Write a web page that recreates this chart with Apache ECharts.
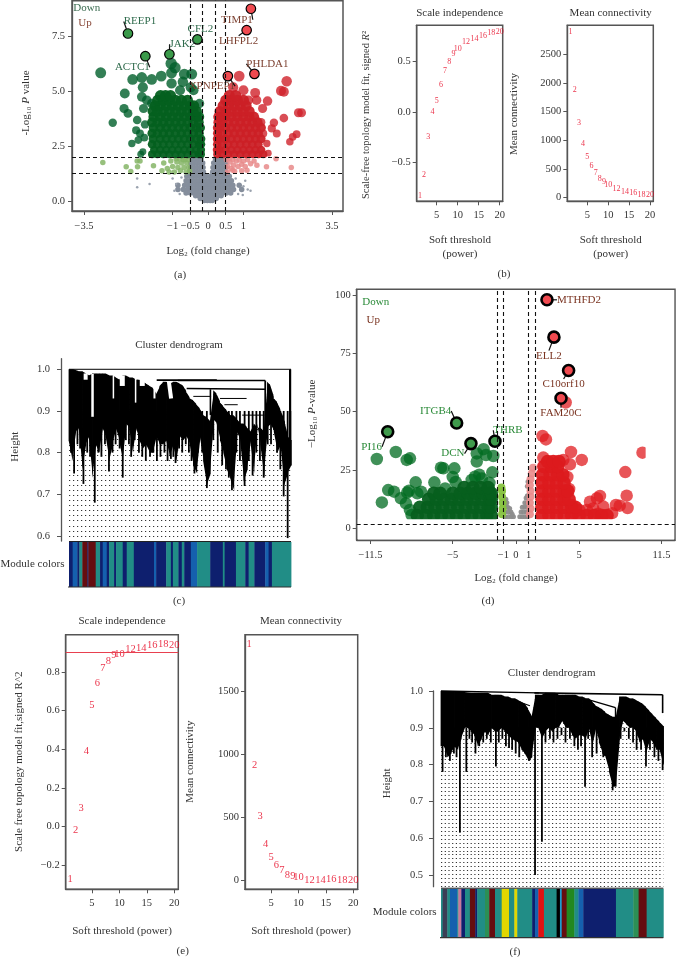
<!DOCTYPE html>
<html><head><meta charset="utf-8">
<style>html,body{margin:0;padding:0;background:#fff}#c{width:676px;height:957px}</style>
<script src="https://cdn.jsdelivr.net/npm/echarts@6/dist/echarts.min.js"></script>
</head><body><div id="c"></div>
<script>
// ---------- panel (a) volcano ----------
const aDownOut=[[-3.03,5.84],[-2.69,3.58],[-2.37,4.22],[-2.26,4.0],[-2.35,4.9],[-2.13,5.54],[-1.87,5.63],[-1.84,5.18],[-1.59,5.54],[-1.32,5.69],[-1.03,5.84],[-1.04,6.26],[-.93,6.07],[-.67,5.78],[-.46,5.78],[-1.03,5.36],[-.79,5.05],[-.49,5.18],[-.71,5.43],[-.41,5.05],[-2.0,3.7],[-2.03,3.24],[-1.92,3.09],[-2.15,2.64],[-1.84,2.26],[-1.97,2.79],[-1.73,4.6],[-1.82,4.22],[-1.87,4.75],[-1.59,4.45],[-.24,4.45],[-1.9,2.15],[-1.78,3.5],[-1.8,2.9]];
const aDownRows=[[2.15,-1.58,-1.43,-1.26,-1.09,-.92,-.75,-.58,-.41,-.26,-.2],[2.35,-1.52,-1.35,-1.18,-1.01,-.84,-.67,-.5,-.33,-.2],[2.6,-1.58,-1.43,-1.26,-1.09,-.92,-.75,-.58,-.41,-.25,-.2],[2.85,-1.55,-1.35,-1.18,-1.01,-.84,-.67,-.5,-.33,-.2],[3.1,-1.58,-1.43,-1.26,-1.09,-.92,-.75,-.58,-.41,-.25],[3.35,-1.54,-1.35,-1.18,-1.01,-.84,-.67,-.5,-.33,-.22],[3.6,-1.58,-1.43,-1.26,-1.09,-.92,-.75,-.58,-.41,-.26],[3.85,-1.54,-1.35,-1.18,-1.01,-.84,-.67,-.5,-.33,-.25],[4.1,-1.56,-1.43,-1.26,-1.09,-.92,-.75,-.58,-.41,-.32],[4.35,-1.5,-1.35,-1.18,-1.01,-.84,-.67,-.5,-.4],[4.6,-1.42,-1.26,-1.09,-.92,-.75,-.58],[4.8,-1.34,-1.2,-1.06]];
const aUpOut=[[.88,5.69],[2.22,5.46],[2.06,5.02],[2.14,4.98],[1.33,4.93],[1.0,5.05],[1.68,4.56],[1.54,4.22],[2.55,4.03],[2.64,4.03],[2.14,3.79],[1.86,3.58],[1.8,3.32],[1.94,3.09],[2.5,3.06],[2.39,2.94],[2.31,2.72],[1.56,3.09],[1.66,2.64],[1.37,4.6],[1.14,4.6],[.71,5.18],[1.7,2.2],[1.5,3.6]];
const aUpRows=[[2.15,.26,.4,.57,.74,.91,1.08,1.25,1.42,1.56],[2.35,.25,.32,.49,.66,.83,1.0,1.17,1.34,1.5],[2.6,.26,.4,.57,.74,.91,1.08,1.25,1.42],[2.85,.26,.32,.49,.66,.83,1.0,1.17,1.34,1.5],[3.1,.27,.4,.57,.74,.91,1.08,1.25,1.42],[3.35,.27,.32,.49,.66,.83,1.0,1.17,1.34,1.5],[3.6,.29,.4,.57,.74,.91,1.08,1.25,1.4],[3.85,.29,.36,.49,.66,.83,1.0,1.17,1.3],[4.1,.33,.5,.66,.83,1.0,1.17],[4.35,.42,.58,.74,.91,1.08],[4.6,.5,.66,.83,1.0],[4.8,.6,.78]];
const aLightDownPts=[[-2.97,1.78],[-2.31,1.58],[-2.18,1.37],[-2.0,1.85],[-1.92,1.85],[-1.99,1.58],[-1.54,1.63],[-1.25,1.75],[-1.15,1.5],[-1.05,1.85],[-1.0,1.6],[-.95,1.35],[-.88,1.8],[-.85,1.55],[-.78,1.4],[-.75,1.75],[-.7,1.9],[-.68,1.55],[-.62,1.35],[-.6,1.75],[-.55,1.9],[-.55,1.55],[-.52,1.38],[-.9,1.95],[-1.3,1.4],[-.8,1.95],[-.65,1.9],[-1.1,1.35]];
const aLightUpPts=[[.52,1.9],[.55,1.6],[.55,1.35],[.62,1.8],[.65,1.5],[.7,1.9],[.72,1.65],[.75,1.38],[.8,1.85],[.85,1.6],[.88,1.9],[.95,1.7],[1.0,1.85],[1.05,1.6],[1.12,1.9],[1.2,1.72],[1.3,1.85],[1.38,1.65],[1.92,1.95],[2.35,1.55],[1.65,1.58],[.6,1.95],[.95,1.4],[1.1,1.42],[.7,1.42]];
const aGreyRows=[[1.95,-.47,-.38,-.29,-.2,.21,.3,.39,.48],[1.75,-.49,-.4,-.31,-.22,-.15,.16,.23,.32,.41,.5],[1.55,-.49,-.4,-.31,-.22,-.14,.14,.22,.31,.4,.5],[1.35,-.5,-.41,-.32,-.23,-.13,.13,.23,.32,.41,.5],[1.15,-.6,-.5,-.41,-.32,-.23,-.14,-.05,.06,.14,.23,.32,.41,.5,.6],[.95,-.62,-.52,-.43,-.34,-.25,-.16,-.07,.02,.11,.2,.29,.38,.47,.56,.66],[.75,-.66,-.56,-.47,-.38,-.29,-.2,-.11,-.02,.07,.16,.25,.34,.43,.52,.61,.7],[.55,-.7,-.58,-.47,-.38,-.29,-.2,-.11,-.02,.07,.16,.25,.34,.43,.52,.62,.72],[.4,-.62,-.5,-.4,-.31,-.22,-.13,-.04,.05,.14,.23,.32,.41,.52,.64],[.27,-.35,-.26,-.17,-.08,.01,.1,.19,.28,.37],[.15,-.22,-.13,-.04,.05,.14,.23],[.06,-.1,-.02,.06,.12],[.75,-.85,.88],[.55,-.85,.95]];
const aGreySparse=[[-2.0,1.05],[-2.0,.65],[-1.65,.8],[-1.0,1.05],[-.9,.8],[-.8,.35],[-.75,1.1],[.85,.35],[1.0,.7],[1.05,.95],[.98,.3],[.78,1.05],[1.12,.55],[-.95,.5],[1.2,.5]];
const aHiDown=[{name:'REEP1',value:[-2.26,7.62]},{name:'CFL2',value:[-.30,7.35]},{name:'JAK2',value:[-1.09,6.68]},{name:'ACTC1',value:[-1.77,6.59]}];
const aHiUp=[{name:'TIMP1',value:[1.21,8.74]},{name:'LHFPL2',value:[1.09,7.77]},{name:'PHLDA1',value:[1.31,5.79]},{name:'XPNPEP1',value:[.56,5.69]}];
const aDownOffs=[[12,-12],[3,-10],[13,-10],[-13,11]];
const aUpOffs=[[-14,11],[-8,11],[13,-10],[-16,10]];
const aXTicks=[-3.5,-1,-.5,0,.5,1,3.5];
const aYTicks=[0,2.5,5,7.5];
const aVLines=[-.5,-.17,.2,.5];
const aHLines=[2,1.3];
// ---------- panel (d) volcano ----------
const dDownOut=[[-11.0,29.7],[-10.6,11.1],[-9.5,32.7],[-8.64,29.3],[-8.38,30],[-10.1,16.4],[-9.64,15.7],[-9.1,12.9],[-8.7,10.7],[-8.38,7.9],[-8.25,5.7],[-8.46,16.1],[-7.93,19.7],[-7.8,15],[-7.5,15.7],[-8.6,15.3],[-6.45,19.7],[-5.74,25.7],[-5.93,26],[-4.87,25.7],[-4.77,19.9],[-5.6,17.1],[-3.1,28.6],[-3.24,22.1],[-2.56,33.9],[-3.1,32.1],[-2.37,31.4],[-1.79,31],[-1.87,24],[-3.5,20.7],[-2.7,21.4],[-2.9,23],[-2.1,19.5],[-5.0,22]];
const dDownRows=[[5.5,-7.8,-7.1,-6.5,-5.9,-5.3,-4.7,-4.1,-3.5,-2.9,-2.3,-1.95],[9,-7.6,-7,-6.4,-5.8,-5.2,-4.6,-4,-3.4,-2.8,-2.2,-1.95],[12.5,-6.9,-6.3,-5.7,-5.1,-4.5,-3.9,-3.3,-2.7,-2.1,-1.95],[15,-6.5,-6,-5,-4.4,-3.8,-3.2,-2.6,-2.1,-1.95],[17.5,-4.1,-3.4,-2.8,-2.2]];
const dUpOut=[[10.0,32.4],[8.64,24.1],[8.75,14],[8.82,8.7],[8.2,9.7],[7.9,10],[6.64,13.9],[6.4,12.9],[5.85,11.4],[6.9,9.3],[6.1,8.5],[5.6,7.9],[5.0,7.9],[5.2,29.3],[4.35,32.7],[4.27,27.4],[2.1,39.6],[2.37,38.1],[2.16,30.3],[3.74,29.3],[4.06,22],[4.2,16.9],[4.4,10],[7.6,6.5],[6.5,6.2],[4.6,6.5]];
const dUpRows=[[5.5,2.05,2.6,3.2,3.8,4.4,5,5.6,6.2,6.8,7.2],[9,2.05,2.6,3.2,3.8,4.4,4.7],[12.5,2.05,2.6,3.2,3.8,4.2],[16,2.05,2.6,3.2,3.8,4.1],[19.5,2.05,2.6,3.2,3.8],[23,2.1,2.7,3.3,3.7],[26.5,2.2,2.8,3.3],[28.6,2.5,2.95,3.4]];
const dLightDownPts=[[-1.1,6],[-1.05,8.5],[-1.05,11],[-1.1,13.5],[-1.1,16],[-1.15,17.5]];
const dLightUpPts=[[1.1,6],[1.15,8.5],[1.1,11],[1.15,13.5],[1.15,16],[1.1,18.5],[1.15,21],[1.25,23.5],[1.35,26]];
const dGreyPts=[[-.85,5],[-.6,5],[-.35,5],[-.2,5],[-.85,7],[-.6,7],[-.4,7],[-.3,6],[-.85,9],[-.65,9],[-.5,8.5],[-.85,11],[-.72,11],[-.8,12.5],[.3,5],[.5,5],[.7,5],[.9,5],[.4,7],[.6,7],[.85,7],[.5,9],[.7,9],[.9,9],[.7,11],[.9,11],[.8,13],[.9,14],[.9,18],[.95,20]];
const dHiDown=[{name:'PI16',value:[-10.14,41.4]},{name:'ITGB4',value:[-4.69,45.1]},{name:'DCN',value:[-3.56,36.3]},{name:'THRB',value:[-1.66,37.3]}];
const dHiUp=[{name:'MTHFD2',value:[2.45,97.9]},{name:'ELL2',value:[3.0,81.9]},{name:'C10orf10',value:[4.16,67.6]},{name:'FAM20C',value:[3.56,55.7]}];
const dExtraUp=[[3.93,53.9]];
const dDownOffs=[[-16,15],[-21,-12],[-18,10],[13,-11]];
const dUpOffs=[[32,0],[-5,19],[-5,14],[0,15]];
const dXTicks=[-11.5,-5,-1,0,1,5,11.5];
const dYTicks=[0,25,50,75,100];
const dVLines=[-1.5,-1,1,1.5];
const dHLines=[1.9];
// ---------- soft threshold panels ----------
const powers=[1,2,3,4,5,6,7,8,9,10,12,14,16,18,20];
const bScale=[-.826,-.623,-.25,-.005,.105,.262,.40,.495,.567,.62,.689,.72,.748,.774,.784];
const bConn=[2884,1872,1302,942,703,552,424,326,273,215,151,93,81,52,47];
const eScale=[-.272,-.019,.095,.388,.628,.74,.822,.857,.888,.893,.916,.921,.936,.943,.936];
const eConn=[1872,914,507,288,185,119,85,45,37,26,5,5,10,0,3];
const xPow=[5,10,15,20];
// ---------- dendrogram (c) ----------
const cLower=[.83,.78,.85,.86,.76,.82,.84,.74,.82,.80,.86,.84,.78,.82,.86,.83,.78,.87,.86,.80,.86,.83,.81,.82,.80,.80,.84,.82,.82,.83,.79,.82,.78,.84,.83,.84,.82,.77,.75,.84,.78,.72,.75,.88,.87,.83,.80,.76,.74,.71,.85,.83,.73,.76,.83,.75,.87,.82,.74,.86,.87,.85,.80,.82,.72,.75,.77];
const cUpper=[1,1,.998,.995,.995,.99,.985,.99,.99,.99,.99,.99,.985,.985,.98,.975,.985,.985,.98,.98,.975,.975,.97,.965,.96,.955,.94,.96,.97,.97,.965,.97,.97,.965,.96,.945,.93,.925,.915,.905,.89,.885,.875,.95,.94,.92,.91,.90,.89,.89,.88,.87,.87,.86,.85,.87,.86,.86,.85,.97,.96,.93,.92,.90,.88,.84,.83];
const cSpikes=[[.9,.8],[2.3,.75],[6.5,.725],[11.6,.68],[18,.755],[24.2,.74],[28,.79],[36.5,.79],[45.9,.785],[48,.775],[56.5,.75],[62.1,.715],[70.7,.76],[73.4,.71],[79.1,.72],[82.7,.745],[87.7,.74],[93.7,.8],[96.7,.695],[98.5,.595],[99.7,.77],
 [3.8,.82],[5,.81],[8.2,.8],[9.5,.79],[13.2,.8],[14.6,.79],[16.2,.82],[19.6,.8],[21,.82],[22.8,.81],[25.6,.83],[27,.82],[29.6,.83],[31.5,.8],[33,.79],[34.6,.78],[38,.8],[39.6,.78],[41.2,.79],[43,.8],[44.4,.78],[47,.79],[49.6,.81],[51,.8],[52.6,.82],[54,.8],[55.2,.78],[58,.8],[60,.8],[65,.83],[67,.8],[69,.77],[72,.74],[75.4,.8],[77,.78],[81,.78],[84.4,.8],[86,.78],[89.5,.82],[91,.82],[95.2,.76]];
const cLinks=[[0,1,100,1,1],[39.5,.974,66.6,.974,1.6],[49,.973,88.4,.973,1.6],[53,.954,88.4,.952,1.6],[63.7,.952,63.7,.89,1.6],[88.4,.973,88.4,.85,1.8],[99.6,1,99.6,.77,2.2],[56,.935,64,.935,1],[68,.93,80,.93,1],[70,.915,76,.915,1],[78,.89,88,.89,1],[97,.875,97,.8,1],
 [10.6,.989,10.6,.886,-2.5],[7.5,.99,7.5,.975,-4],[24,.985,24,.96,-5],[33,.985,33,.96,-5],[36,.98,36,.97,-3],[45,.97,46,.93,-4],[20,.985,20,.93,-1.5],[30,.98,30,.92,-1.5],[38.5,.97,38.5,.93,-2]];
const cEdges=[0,1.65,3.76,4.66,6,8.27,8.72,12.03,13.98,15.19,17,18.05,20.3,21.2,24.2,26,29.2,38.3,39.25,43.8,45.9,46.8,49.3,50.8,51.9,54.9,57.7,63.6,69.3,70.1,75.2,79.4,80.9,83.5,88.4,89.9,91.4,100];
const cColors=['navy','blue','navy','teal','darkred','navy','darkred','teal','navy','blue','navy','teal','navy','teal','navy','teal','navy','blue','navy','teal','navy','teal','navy','teal','navy','blue','teal','navy','teal','navy','teal','navy','teal','navy','blue','navy','teal'];
// ---------- dendrogram (f) ----------
const fLower=[.85,.85,.82,.83,.85,.84,.87,.90,.90,.89,.88,.85,.87,.89,.88,.90,.89,.89,.90,.89,.88,.87,.865,.86,.84,.83,.81,.82,.90,.90,.87,.89,.90,.89,.90,.90,.92,.90,.90,.88,.87,.88,.88,.87,.90,.85,.90,.86,.83,.82,.78,.74,.74,.87,.92,.91,.90,.90,.89,.86,.87,.83,.87,.86,.84,.84,.80];
const fUpper=[1,1,1,1,.998,.998,.997,.997,.996,.995,.995,.995,.995,.995,.995,.99,.99,.99,.99,.985,.985,.98,.98,.975,.97,.965,.95,.93,.99,.99,.99,.995,.995,.995,.995,.99,.99,.99,.99,.99,.99,.985,.985,.98,.98,.97,.96,.955,.95,.94,.935,.93,.93,.985,.985,.985,.98,.98,.975,.97,.965,.955,.945,.935,.925,.915,.905];
const fSpikes=[[.7,.78],[8.5,.615],[11.4,.78],[15.5,.83],[24.7,.795],[30.6,.845],[37.8,.83],[39.7,.81],[42.3,.5],[45.4,.59],[64.8,.74],[73,.82],[77.2,.73],[92.2,.795],[99.7,.785],
 [2.2,.82],[4,.81],[5.8,.83],[7,.82],[12.8,.87],[14,.86],[17.2,.85],[19,.86],[20.6,.87],[22.4,.86],[26,.86],[27.6,.87],[29.2,.85],[32,.84],[33.6,.83],[35.2,.82],[47,.86],[49,.87],[50.6,.86],[52.4,.87],[54.2,.88],[56,.86],[58,.87],[60,.85],[61.6,.84],[63,.85],[66.2,.87],[68,.82],[70,.83],[80.8,.87],[82.5,.89],[84.5,.87],[86.4,.86],[88,.84],[90,.84],[94,.84],[96,.82],[97.8,.81]];
const fLinks=[[0,1,44,.995,1.4],[42,.995,99.7,.99,1.6],[99.7,.99,99.7,.94,1.6],[67,.975,78.5,.955,1.4],[78.5,.955,78.5,.9,1.4],[40,.93,40,.85,1.4],[33,.975,40,.96,1.2]];
const fEdges=[0,.75,2.85,4.05,7.35,7.8,9.15,10.8,13,15.4,16.3,19.8,21.7,24.3,27.3,30.6,33,34.3,41,42.3,43.8,46.3,52,53.5,54.3,56.5,60,61.8,64,78.7,86.5,88.9,92.5,100];
const fColors=['teal','slate','teal','blue','teal','pink','navy','teal','darkred','navy','teal','seagreen','darkred','teal','yellow','teal','yellow','teal','navy','blue','red','teal','black','cyan','darkred','green','teal','blue','navy','teal','seagreen','darkred','teal'];
const palette={navy:'#0e1f6e',blue:'#1560ae',teal:'#218d86',darkred:'#650d10',slate:'#3a3f55',pink:'#c9799a',seagreen:'#2c8f55',yellow:'#e2d600',red:'#e01212',black:'#000',cyan:'#1c9bd0',green:'#22881f'};

const F='Liberation Serif', TXT='#333', FRAME='#555';
const rows=r=>r.flatMap(a=>a.slice(1).map(x=>[x,a[0]]));
const grid=[],xAxis=[],yAxis=[],series=[],graphic=[];
function addGrid(l,t,w,h,frame){grid.push({left:l,top:t,width:w,height:h,show:!!frame,borderColor:FRAME,borderWidth:1.5,backgroundColor:'transparent'});return grid.length-1;}
function numAxis(gi,min,max,ticks,fmt,margin,extra){
  return Object.assign({gridIndex:gi,type:'value',min,max,
    axisLine:{show:true,onZero:false,lineStyle:{color:FRAME,width:1.3}},
    axisTick:{show:true,customValues:ticks,length:4,lineStyle:{color:FRAME,width:1}},
    axisLabel:{show:true,customValues:ticks,formatter:v=>fmt(v).replace('-','\u2212'),fontFamily:F,fontSize:10.5,color:TXT,margin},
    splitLine:{show:false}},extra||{});
}
const plain=v=>String(v), one=v=>v.toFixed(1);
function text(t,x,y,o){o=o||{};graphic.push({type:'text',x,y,rotation:o.rot||0,z:20,style:{text:t,fontFamily:F,fontSize:o.size||11,fill:o.color||TXT,textAlign:o.align||'center',textVerticalAlign:'middle',rich:o.rich}});}

const yIndexOf={};
function scatter(gi,data,color,opacity,size,extra){
  series.push(Object.assign({type:'scatter',xAxisIndex:gi,yAxisIndex:yIndexOf[gi],data,symbolSize:size,itemStyle:{color,opacity},silent:true},extra||{}));
}
function highlights(gi,data,offs,fill,labelColor,size,bw,fs){
  series.push({type:'scatter',xAxisIndex:gi,yAxisIndex:yIndexOf[gi],data,symbolSize:size,z:6,clip:false,
    itemStyle:{color:fill,opacity:1,borderColor:'#000',borderWidth:bw},
    label:{show:true,formatter:'{b}',position:'inside',fontFamily:F,fontSize:fs,color:labelColor},
    labelLayout:p=>({dx:offs[p.dataIndex][0],dy:offs[p.dataIndex][1]}),
    labelLine:{show:true,lineStyle:{color:'#111',width:1.2}}});
}
function guides(gi,v,h,clipAreas){
  series.push({type:'scatter',xAxisIndex:gi,yAxisIndex:yIndexOf[gi],data:[],z:7,silent:true,
    markLine:{silent:true,symbol:'none',animation:false,z:7,label:{show:false},lineStyle:{color:'#111',type:[4,3],width:1.1},
      data:v.map(x=>({xAxis:x})).concat(h.map(y=>({yAxis:y})))},
    markArea:clipAreas?{silent:true,z:4,itemStyle:{color:'#fff',opacity:1},data:clipAreas}:undefined});
}
function powerPanel(l,t,w,h,xr,yr,yTicks,yFmt,vals,fs,margin){
  const gi=addGrid(l,t,w,h,true);
  xAxis.push(numAxis(gi,xr[0],xr[1],xPow,plain,margin));
  yAxis.push(numAxis(gi,yr[0],yr[1],yTicks,yFmt,6));
  yIndexOf[gi]=yAxis.length-1;
  series.push({type:'scatter',xAxisIndex:gi,yAxisIndex:yIndexOf[gi],symbolSize:1,silent:true,clip:false,
    data:powers.map((p,i)=>[p,vals[i]]),itemStyle:{color:'transparent'},
    label:{show:true,position:'inside',formatter:d=>String(d.data[0]),fontFamily:F,fontSize:fs,color:'#e6001e',textBorderWidth:0}});
  return gi;
}
function dendro(l,t,w,h,yMin,yMax,ticks,lower,upper,spikes,links,edges,colors,barTop,barH,rowsN,dash,margin){
  const gi=addGrid(l,t,w,h,false);
  xAxis.push({gridIndex:gi,type:'value',min:0,max:100,show:false});
  yAxis.push(numAxis(gi,yMin,yMax,ticks,one,margin,{offset:8}));
  const yi=yAxis.length-1; yIndexOf[gi]=yi;
  yAxis.push({gridIndex:gi,type:'value',min:0,max:rowsN,interval:1,position:'right',axisLine:{show:false},axisTick:{show:false},axisLabel:{show:false},
    splitLine:{show:true,lineStyle:{color:'#333',width:1.2,type:dash}}});
  const step=100/(lower.length-1);
  series.push({type:'custom',xAxisIndex:gi,yAxisIndex:yi,silent:true,z:3,clip:false,
    data:lower.map((v,i)=>[i*step,upper[i],v]),
    encode:{x:0,y:[1,2]},
    renderItem:(p,api)=>{
      const i=p.dataIndex,n=Math.min(i+1,lower.length-1),x0=api.value(0),x1=n*step;
      const a=api.coord([x0,upper[i]]),b=api.coord([x1,upper[n]]),c=api.coord([x1,lower[n]]),d=api.coord([x0,lower[i]]);
      const ta=api.coord([x0,yMax]),tb=api.coord([x1,yMax]);
      const off=.4;
      return {type:'group',children:[
        {type:'polygon',shape:{points:[[ta[0]-off,ta[1]-3],[tb[0]+off,tb[1]-3],[b[0]+off,b[1]],[a[0]-off,a[1]]]},style:{fill:'#fff'}},
        {type:'polygon',shape:{points:[[a[0]-off,a[1]],[b[0]+off,b[1]],[c[0]+off,c[1]],[d[0]-off,d[1]]]},style:{fill:'#000'}}]};
    }});
  series.push({type:'custom',xAxisIndex:gi,yAxisIndex:yi,silent:true,z:4,
    data:spikes,encode:{x:0,y:1},
    renderItem:(p,api)=>{
      const a=api.coord([api.value(0),api.value(1)]),b=api.coord([api.value(0),.9]);
      return {type:'rect',shape:{x:a[0]-.9,y:b[1],width:1.8,height:a[1]-b[1]},style:{fill:'#000'}};
    }});
  series.push({type:'custom',xAxisIndex:gi,yAxisIndex:yi,silent:true,z:5,
    data:links,encode:{x:[0,2],y:[1,3]},
    renderItem:(p,api)=>{
      const a=api.coord([api.value(0),api.value(1)]),b=api.coord([api.value(2),api.value(3)]),w=api.value(4);
      return {type:'line',shape:{x1:a[0],y1:a[1],x2:b[0],y2:b[1]},style:{stroke:w<0?'#fff':'#000',lineWidth:Math.abs(w)}};
    }});
  const gb=addGrid(l,barTop,w,barH,false);
  xAxis.push({gridIndex:gb,type:'value',min:0,max:100,show:false});
  yAxis.push({gridIndex:gb,type:'value',min:0,max:1,show:false});
  const ybi=yAxis.length-1;
  series.push({type:'custom',xAxisIndex:gb,yAxisIndex:ybi,silent:true,
    data:colors.map((c,i)=>[edges[i],edges[i+1],0,1]),
    encode:{x:[0,1],y:[2,3]},
    renderItem:(p,api)=>{
      const a=api.coord([api.value(0),1]),b=api.coord([api.value(1),0]);
      return {type:'rect',shape:{x:a[0],y:a[1],width:b[0]-a[0]+.4,height:b[1]-a[1]},style:{fill:palette[colors[p.dataIndex]]}};
    }});
  graphic.push({type:'line',z:20,shape:{x1:l-1,y1:barTop+barH,x2:l+w,y2:barTop+barH},style:{stroke:'#333',lineWidth:1.2}});
  graphic.push({type:'line',z:20,shape:{x1:l,y1:barTop-.5,x2:l+w,y2:barTop-.5},style:{stroke:'#222',lineWidth:1}});
}

// ---- (a)
const GA=addGrid(72,0.8,271,210.2,true);
xAxis.push(numAxis(GA,-3.84,3.81,aXTicks,plain,10));
yAxis.push(numAxis(GA,-.42,9.1,aYTicks,one,7));yIndexOf[GA]=yAxis.length-1;
const aDense=d=>5.5+1.2*d[1], aOut=d=>4.5+1.1*d[1];
scatter(GA,rows(aGreyRows),'#858e9c',1,5.5);
scatter(GA,aGreySparse,'#9aa2ae',1,2.5);
scatter(GA,aLightDownPts,'#85b566',.85,5.5);
scatter(GA,aLightUpPts,'#e88a8a',.85,5.5);
scatter(GA,aDownOut,'#005f2a',.8,aOut);
scatter(GA,aUpOut,'#d0222a',.8,aOut);
scatter(GA,rows(aDownRows),'#04601f',.95,aDense);
scatter(GA,rows(aUpRows),'#cb2026',.95,aDense);
guides(GA,aVLines,aHLines);
highlights(GA,aHiDown,aDownOffs,'#3a9a4a','#2f6b4c',9.5,1.2,11);
highlights(GA,aHiUp,aUpOffs,'#f04a50','#7d4232',9.5,1.2,11);

// ---- (d)
const GD=addGrid(356.7,289.3,318.3,250.7,true);
xAxis.push(numAxis(GD,-12.59,12.57,dXTicks,plain,10));
yAxis.push(numAxis(GD,-5,102.4,dYTicks,plain,6));yIndexOf[GD]=yAxis.length-1;
scatter(GD,dGreyPts,'#8c8c8c',.95,5);
scatter(GD,dLightDownPts,'#86c23e',.95,8);
scatter(GD,dLightUpPts,'#ea8a8a',.9,8);
scatter(GD,dDownOut,'#006b20',.75,12.5);
scatter(GD,dUpOut.concat(dExtraUp),'#e01c20',.75,12.5);
scatter(GD,rows(dDownRows),'#065f1e',.95,13.5);
scatter(GD,rows(dUpRows),'#dc1a1e',.95,13.5);
guides(GD,dVLines,dHLines,[[{xAxis:-12.5,yAxis:-4.8},{xAxis:12.5,yAxis:3.9}],[{xAxis:10.25,yAxis:3.9},{xAxis:12.5,yAxis:102}]]);
highlights(GD,dHiDown,dDownOffs,'#3f9a4c','#2a8a38',11,2.6,11);
highlights(GD,dHiUp,dUpOffs,'#f04a50','#7a3320',11,2.6,11);

// ---- (b)
powerPanel(416.7,25.3,86,176,[.24,20.71],[-.88,.851],[-.5,0,.5],one,bScale,8,8);
powerPanel(567.3,25.3,86,176,[.216,20.8],[-64,3006],[0,500,1000,1500,2000,2500],plain,bConn,8,8);
// ---- (e)
const GE=powerPanel(65.7,634.7,112.6,254.6,[.21,20.73],[-.324,.993],[-.2,0,.2,.4,.6,.8],one,eScale,10.5,8);
series.push({type:'scatter',xAxisIndex:GE,yAxisIndex:yIndexOf[GE],data:[],markLine:{silent:true,symbol:'none',animation:false,label:{show:false},lineStyle:{color:'#e8404f',type:'solid',width:1.1},data:[{yAxis:.9}]}});
powerPanel(245,634.7,112.7,254.6,[.26,20.8],[-69,1950],[0,500,1000,1500],plain,eConn,10.5,8);
// ---- (c),(f)
dendro(69,358.7,222,182.3,.588,1.0254,[.6,.7,.8,.9,1],cLower,cUpper,cSpikes,cLinks,cEdges,cColors,542,45,36,[1.2,2.8],11);
dendro(441,691,222.3,195.7,.468,1,[.5,.6,.7,.8,.9,1],fLower,fUpper,fSpikes,fLinks,fEdges,fColors,888.7,49,49,[1.2,2.5],10);

// ---- texts
const logLabel='Log\u2082 (fold change)';
const ital=s=>({i:{fontStyle:'italic',fontFamily:F,fontSize:s,fill:TXT}});
text('Down',86.7,8.3,{color:'#3a6b50'});text('Up',85,23.3,{color:'#8a4a3a'});
text(logLabel,208,251.5);text('(a)',180,275);
text('-Log\u2081\u2080 {i|P} value',26,103,{rot:Math.PI/2,rich:ital(11)});
text('Scale independence',459.7,12.7);text('Mean connectivity',610.7,12.7);
text('Scale-free topology model fit, signed {i|R}\u00b2',366,115,{rot:Math.PI/2,size:10.5,rich:ital(10.5)});
text('Mean connectivity',514.5,114,{rot:Math.PI/2});
text('Soft threshold',460,240);text('(power)',460,254);text('Soft threshold',610.7,240);text('(power)',610.7,254);text('(b)',504,274);
text('Cluster dendrogram',179,345.3);text('Height',15,446.7,{rot:Math.PI/2});text('Module colors',32.5,564.3);text('(c)',179,601);
text('Down',375.7,301.7,{color:'#2a8a38'});text('Up',373.3,319.7,{color:'#7a3320'});
text(logLabel,516,578);text('\u2212Log\u2081\u2080 {i|P}-value',311.7,414,{rot:Math.PI/2,rich:ital(11)});
text('(d)',488,601);
text('Scale independence',122,621.3);text('Mean connectivity',301,621.3);
text('Scale free topology model fit,signed R^2',19.3,761.7,{rot:Math.PI/2});
text('Mean connectivity',190,761.7,{rot:Math.PI/2});
text('Soft threshold (power)',122,931);text('Soft threshold (power)',301,931);text('(e)',182.7,951.5);
text('Cluster dendrogram',551.7,673.3);text('Height',387.3,783.3,{rot:Math.PI/2});text('Module colors',404.7,912.3);text('(f)',515,952.3);

const chart=echarts.init(document.getElementById('c'),null,{renderer:'canvas',width:676,height:957});
chart.setOption({animation:false,backgroundColor:'#fff',grid,xAxis,yAxis,series,graphic:{elements:graphic},tooltip:{show:false},legend:{show:false}});
</script></body></html>
